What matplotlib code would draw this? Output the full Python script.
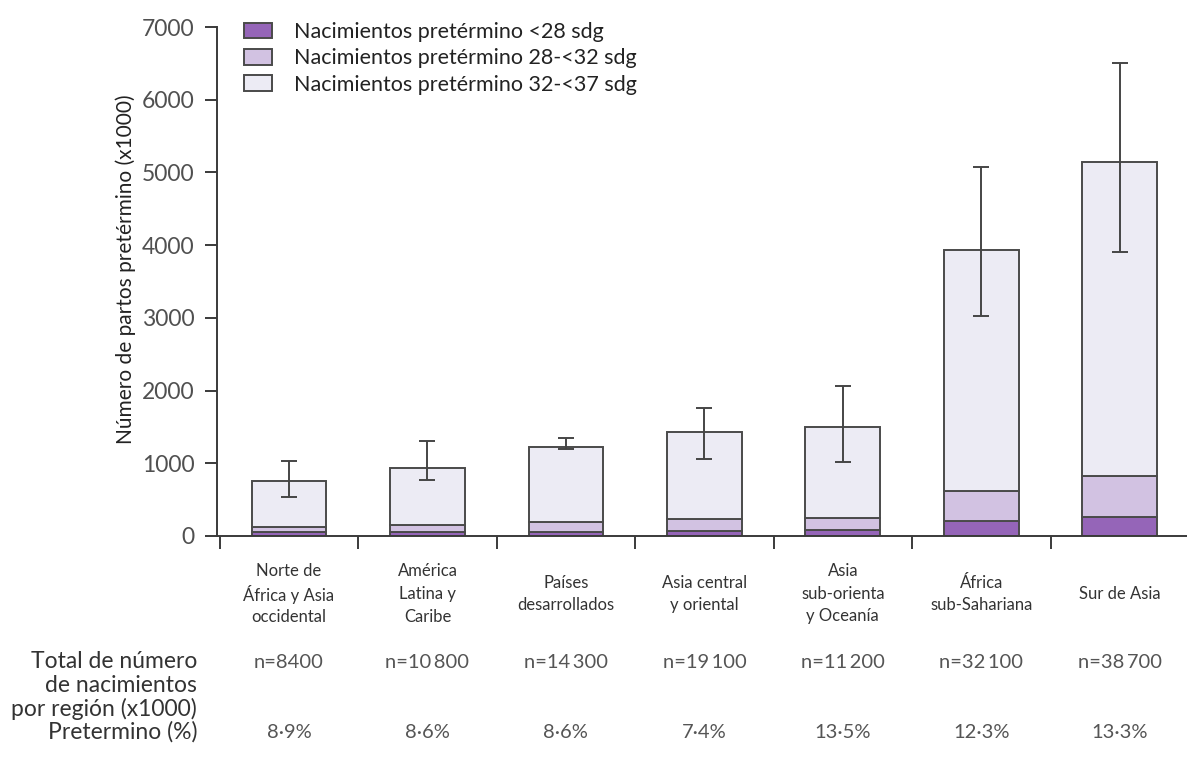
import matplotlib
matplotlib.use("Agg")
import matplotlib.pyplot as plt
import matplotlib.transforms as mtrans
from matplotlib.patches import Patch
import numpy as np

plt.rcParams['font.family'] = ['Lato', 'DejaVu Sans']

# Regions and preterm births (thousands) split by gestational age
regions = [
    "Norte de\nÁfrica y Asia\noccidental",
    "América\nLatina y\nCaribe",
    "Países\ndesarrollados",
    "Asia central\ny oriental",
    "Asia\nsub-orienta\ny Oceanía",
    "África\nsub-Sahariana",
    "Sur de Asia",
]
lt28 = [50, 60, 60, 70, 80, 200, 260]
w28_32 = [80, 90, 130, 160, 170, 420, 560]
w32_37 = [620, 790, 1040, 1200, 1250, 3310, 4330]
err_low = [530, 770, 1200, 1060, 1020, 3030, 3910]
err_high = [1030, 1310, 1350, 1760, 2060, 5080, 6510]
births_n = ["n=8400", "n=10\u2009800", "n=14\u2009300", "n=19\u2009100",
            "n=11\u2009200", "n=32\u2009100", "n=38\u2009700"]
preterm_pct = ["8·9%", "8·6%", "8·6%", "7·4%", "13·5%", "12·3%", "13·3%"]
series_labels = ["Nacimientos pretérmino <28 sdg",
                 "Nacimientos pretérmino 28-<32 sdg",
                 "Nacimientos pretérmino 32-<37 sdg"]
yticks = [0, 1000, 2000, 3000, 4000, 5000, 6000, 7000]
row_labels = ["Total de número", "de nacimientos", "por región (x1000)", "Pretermino (%)"]

colors = ["#9565b8", "#d2c2e2", "#ecebf4"]
edge = "#4a4a4a"
axis_col = "#3a3a3a"

W, H = 1187, 769
fig = plt.figure(figsize=(W / 100, H / 100), dpi=100)
ax = fig.add_axes([217 / W, (H - 536) / H, 972 / W, 509 / H])

x = np.arange(len(regions))
a = np.array(lt28)
b = np.array(w28_32)
c = np.array(w32_37)
bw = 0.54
ax.bar(x, a, bw, color=colors[0], edgecolor=edge, linewidth=1.4, zorder=2)
ax.bar(x, b, bw, bottom=a, color=colors[1], edgecolor=edge, linewidth=1.4, zorder=2)
ax.bar(x, c, bw, bottom=a + b, color=colors[2], edgecolor=edge, linewidth=1.4, zorder=2)

total = a + b + c
lo = np.array(err_low)
hi = np.array(err_high)
ax.errorbar(x, total, yerr=[total - lo, hi - total], fmt="none",
            ecolor="#454545", elinewidth=1.4, capsize=5.5, capthick=1.4, zorder=3)

ax.set_xlim(-0.52, 6.5)
ax.set_ylim(0, 7000)
ax.set_yticks(yticks)
ax.set_yticklabels([str(v) for v in yticks], fontsize=16.5, color="#505050")
ax.set_xticks(np.arange(-0.5, 7.0, 1.0))
ax.set_xticklabels([])
ax.tick_params(axis="both", direction="out", length=9, width=1.4, color=axis_col)
ax.tick_params(axis="y", pad=7)
for s in ["top", "right"]:
    ax.spines[s].set_visible(False)
for s in ["left", "bottom"]:
    ax.spines[s].set_color(axis_col)
    ax.spines[s].set_linewidth(1.4)
ax.spines["bottom"].set_bounds(-0.52, 6.6)

ax.set_ylabel("Número de partos pretérmino (x1000)", fontsize=15, color="#222222")
ax.yaxis.set_label_coords((136 - 217) / 972, 0.525)

# Legend
handles = [Patch(facecolor=col, edgecolor=edge, linewidth=1.4) for col in colors]
ax.legend(handles, series_labels, loc="upper left", bbox_to_anchor=(0.008, 1.048),
          frameon=False, fontsize=15.5, handlelength=1.3, handleheight=0.75,
          handletextpad=1.0, labelspacing=0.3, labelcolor="#222222")

blend = mtrans.blended_transform_factory(ax.transData, fig.transFigure)

# Category labels under the axis, one line at a time for even spacing
line_gap = 22.5
for xi, name in zip(x, regions):
    lines = name.split("\n")
    y0 = 594 - line_gap * (len(lines) - 1) / 2
    for k, ln in enumerate(lines):
        ax.text(xi, 1 - (y0 + k * line_gap) / H, ln, transform=blend,
                ha="center", va="center", fontsize=12, color="#333333")

for xi, n, p in zip(x, births_n, preterm_pct):
    ax.text(xi, 1 - 662 / H, n, transform=blend, ha="center", va="center",
            fontsize=14.5, color="#555555")
    ax.text(xi, 1 - 732 / H, p, transform=blend, ha="center", va="center",
            fontsize=14.5, color="#555555")

for txt, yy in zip(row_labels, [662, 686, 709, 732]):
    fig.text(197 / W, 1 - yy / H, txt, ha="right", va="center", fontsize=16.5, color="#333333")

fig.savefig("out.png", dpi=100, facecolor="white")
